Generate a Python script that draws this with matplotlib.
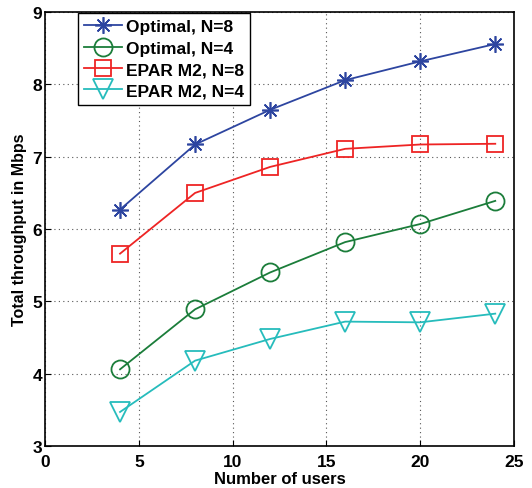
import matplotlib.pyplot as plt
import numpy as np

plt.rcParams['font.family'] = ['Liberation Sans', 'DejaVu Sans']
plt.rcParams['font.weight'] = 'bold'
plt.rcParams['axes.labelweight'] = 'bold'

users = [4, 8, 12, 16, 20, 24]
opt_n8 = [6.27, 7.17, 7.65, 8.06, 8.32, 8.56]
opt_n4 = [4.06, 4.89, 5.40, 5.82, 6.07, 6.39]
epar_n8 = [5.66, 6.50, 6.86, 7.11, 7.17, 7.18]
epar_n4 = [3.47, 4.18, 4.48, 4.72, 4.71, 4.83]

fig = plt.figure(figsize=(5.32, 4.89), dpi=100)
ax = fig.add_axes([0.0846, 0.086, 0.8816, 0.887])

ax.plot(users, opt_n8, color='#2d45a0', marker=(8, 2, 0), markersize=12,
        markeredgewidth=1.2, linewidth=1.3, label='Optimal, N=8')
ax.plot(users, opt_n4, color='#1b7d3a', marker='o', markersize=13,
        markerfacecolor='none', markeredgewidth=1.3, linewidth=1.3, label='Optimal, N=4')
ax.plot(users, epar_n8, color='#ee2424', marker='s', markersize=11,
        markerfacecolor='none', markeredgewidth=1.3, linewidth=1.3, label='EPAR M2, N=8')
ax.plot(users, epar_n4, color='#26bcbc', marker='v', markersize=15,
        markerfacecolor='none', markeredgewidth=1.3, linewidth=1.3, label='EPAR M2, N=4')

ax.set_xlim(0, 25)
ax.set_ylim(3, 9)
ax.set_xticks([0, 5, 10, 15, 20, 25])
ax.set_yticks([3, 4, 5, 6, 7, 8, 9])
ax.grid(True, color='#555555', linestyle=(0, (1, 3)), linewidth=0.8)
ax.tick_params(direction='in', length=4, labelsize=12.5)
ax.tick_params(axis='x', pad=6)
ax.tick_params(axis='y', pad=2)
for sp in ax.spines.values():
    sp.set_linewidth(1.2)

ax.set_xlabel('Number of users', fontsize=12, labelpad=1)
ax.set_ylabel('Total throughput in Mbps', fontsize=11.5, labelpad=4)

leg = ax.legend(loc='upper left', bbox_to_anchor=(0.068, 1.0), fancybox=False,
                edgecolor='black', framealpha=1, handlelength=2.2,
                prop={'weight': 'bold', 'size': 12.5}, borderpad=0.35,
                labelspacing=0.36, handletextpad=0.2, borderaxespad=0.05)
leg.get_frame().set_linewidth(1.0)

fig.savefig('out.png', dpi=100)
